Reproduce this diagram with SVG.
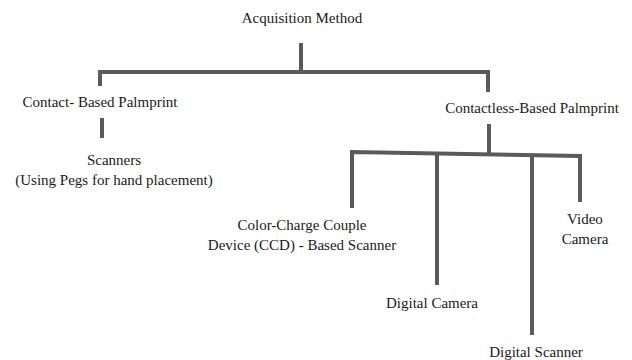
<svg xmlns="http://www.w3.org/2000/svg" width="632" height="360" viewBox="0 0 632 360">
<style>
text{font-family:'Liberation Serif','DejaVu Serif',serif;font-size:15px;fill:#1a1a1a;text-anchor:middle}
.c{stroke:#5a5a5a;stroke-width:4;fill:none;stroke-linejoin:miter;stroke-linecap:butt}
</style>
<rect width="632" height="360" fill="#ffffff"/>
<g id="connectors">
<path class="c" d="M301,43 V72"/>
<path class="c" d="M100,86 V72 H488 V92"/>
<path class="c" d="M102,118 V138"/>
<path class="c" d="M489,124 V153"/>
<path class="c" d="M352,208 V152 L580,156 V202"/>
<path class="c" d="M437,153 V285"/>
<path class="c" d="M532,155 V335"/>
</g>
<g id="acquisition"><text x="302" y="23">Acquisition Method</text></g>
<g id="contact"><text x="100" y="107">Contact- Based Palmprint</text></g>
<g id="scanners"><text x="114" y="165">Scanners</text><text x="114" y="185">(Using Pegs for hand placement)</text></g>
<g id="contactless"><text x="532" y="113">Contactless-Based Palmprint</text></g>
<g id="ccd"><text x="302" y="230">Color-Charge Couple</text><text x="302" y="250">Device (CCD) - Based Scanner</text></g>
<g id="digitalcamera"><text x="432" y="308">Digital Camera</text></g>
<g id="digitalscanner"><text x="536" y="357">Digital Scanner</text></g>
<g id="video"><text x="585" y="224">Video</text><text x="585" y="244">Camera</text></g>
</svg>
